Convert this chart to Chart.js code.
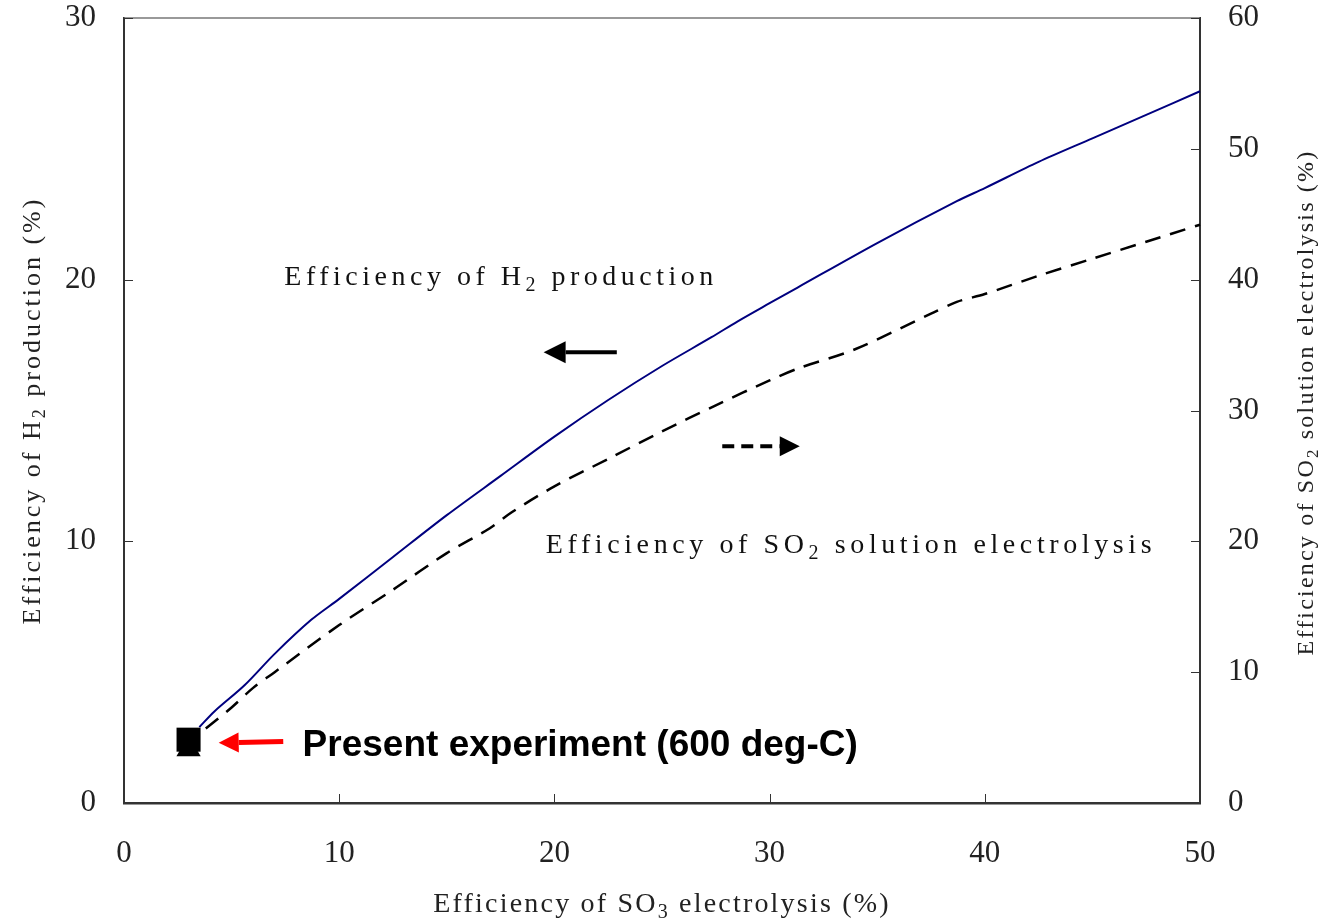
<!DOCTYPE html>
<html>
<head>
<meta charset="utf-8">
<script src="https://cdn.jsdelivr.net/npm/chart.js@4.4.0/dist/chart.umd.min.js"></script>
<style>
  html, body { margin: 0; padding: 0; background: #fff; }
  #wrap { width: 1318px; height: 920px; }
</style>
</head>
<body>
<div id="wrap"><canvas id="chart" width="1318" height="920"></canvas></div>
<script>
// SO3 electrolysis efficiency (%) -> H2 production efficiency (%), left axis
const h2_X = [3.5, 4.2, 5.6, 7.0, 8.7, 10.0, 12.5, 15.0, 17.5, 20.0, 22.5, 25.0, 27.3, 28.5, 30.0, 31.3, 35.0, 38.7, 40.0, 42.5, 45.0, 47.5, 50.0];
const h2_Y = [2.9, 3.5, 4.5, 5.7, 7.0, 7.8, 9.4, 11.0, 12.5, 14.0, 15.4, 16.7, 17.8, 18.4, 19.1, 19.7, 21.4, 23.0, 23.5, 24.5, 25.4, 26.3, 27.2];

// SO3 electrolysis efficiency (%) -> SO2 solution electrolysis efficiency (%), right axis
const so2_X = [3.8, 5.0, 6.0, 7.0, 10.0, 12.5, 15.0, 17.0, 18.0, 20.0, 22.5, 25.0, 27.5, 30.0, 31.3, 34.0, 37.5, 38.7, 40.0, 42.5, 45.0, 47.5, 50.0];
const so2_Y = [5.7, 7.3, 8.8, 10.0, 13.6, 16.3, 19.1, 21.0, 22.2, 24.2, 26.3, 28.4, 30.4, 32.3, 33.2, 34.7, 37.4, 38.3, 38.9, 40.3, 41.6, 42.9, 44.2];

// present experiment (600 deg-C)
const expX = [3.0];
const expH2 = [2.42];
const expSO2 = [4.1];

const xTicks = [0, 10, 20, 30, 40, 50];
const yLeftTicks = [0, 10, 20, 30];
const yRightTicks = [0, 10, 20, 30, 40, 50, 60];

const serif = '"Liberation Serif", "DejaVu Serif", serif';

function pts(xs, ys) { return xs.map((x, i) => ({ x: x, y: ys[i] })); }

// text with a lowered subscript part, e.g. ['Efficiency of H', '2', ' production']
function drawSubText(ctx, parts, x, y, size, spacing, align) {
  ctx.save();
  ctx.letterSpacing = spacing + 'px';
  ctx.textBaseline = 'alphabetic';
  ctx.textAlign = 'left';
  const subSize = Math.round(size * 0.7);
  const widths = parts.map((p, i) => {
    ctx.font = (i === 1 ? subSize : size) + 'px ' + serif;
    return ctx.measureText(p).width;
  });
  const total = widths.reduce((a, b) => a + b, 0);
  let cx = align === 'center' ? x - total / 2 : x;
  parts.forEach((p, i) => {
    ctx.font = (i === 1 ? subSize : size) + 'px ' + serif;
    ctx.fillText(p, cx, i === 1 ? y + size * 0.2 : y);
    cx += widths[i];
  });
  ctx.restore();
}

function arrow(ctx, x1, y1, x2, y2, color, width, head, dash) {
  const ang = Math.atan2(y2 - y1, x2 - x1);
  const bx = x2 - Math.cos(ang) * head;
  const by = y2 - Math.sin(ang) * head;
  ctx.save();
  ctx.strokeStyle = color;
  ctx.fillStyle = color;
  ctx.lineWidth = width;
  ctx.setLineDash(dash || []);
  ctx.beginPath();
  ctx.moveTo(x1, y1);
  ctx.lineTo(bx, by);
  ctx.stroke();
  ctx.setLineDash([]);
  ctx.beginPath();
  ctx.moveTo(x2, y2);
  ctx.lineTo(bx - Math.sin(ang) * head * 0.5, by + Math.cos(ang) * head * 0.5);
  ctx.lineTo(bx + Math.sin(ang) * head * 0.5, by - Math.cos(ang) * head * 0.5);
  ctx.closePath();
  ctx.fill();
  ctx.restore();
}

const decorPlugin = {
  id: 'decor',
  afterDraw(chart) {
    const ctx = chart.ctx;
    const a = chart.chartArea;
    const sx = chart.scales.x, sy = chart.scales.y, sy1 = chart.scales.y1;

    // top border
    ctx.save();
    ctx.strokeStyle = '#777';
    ctx.lineWidth = 1.5;
    ctx.beginPath();
    ctx.moveTo(a.left, a.top);
    ctx.lineTo(a.right, a.top);
    ctx.stroke();

    // inward tick marks
    ctx.strokeStyle = '#333';
    ctx.lineWidth = 1;
    const tl = 9;
    ctx.beginPath();
    xTicks.forEach(v => {
      const px = Math.round(sx.getPixelForValue(v)) + 0.5;
      ctx.moveTo(px, a.bottom); ctx.lineTo(px, a.bottom - tl);
    });
    yLeftTicks.forEach(v => {
      const py = Math.round(sy.getPixelForValue(v)) + 0.5;
      ctx.moveTo(a.left, py); ctx.lineTo(a.left + tl, py);
    });
    yRightTicks.forEach(v => {
      const py = Math.round(sy1.getPixelForValue(v)) + 0.5;
      ctx.moveTo(a.right, py); ctx.lineTo(a.right - tl, py);
    });
    ctx.stroke();
    ctx.restore();

    // axis titles
    ctx.fillStyle = '#222';
    drawSubText(ctx, ['Efficiency of SO', '3', ' electrolysis (%)'], (a.left + a.right) / 2, 912, 28, 2.2, 'center');

    ctx.save();
    ctx.translate(40, (a.top + a.bottom) / 2);
    ctx.rotate(-Math.PI / 2);
    drawSubText(ctx, ['Efficiency of H', '2', ' production (%)'], 0, 0, 26, 3, 'center');
    ctx.restore();

    ctx.save();
    ctx.translate(1313, (a.top + a.bottom) / 2 - 8);
    ctx.rotate(-Math.PI / 2);
    drawSubText(ctx, ['Efficiency of SO', '2', ' solution electrolysis (%)'], 0, 0, 24, 2.2, 'center');
    ctx.restore();

    // annotations
    ctx.fillStyle = '#111';
    drawSubText(ctx, ['Efficiency of H', '2', ' production'], sx.getPixelForValue(7.45), sy.getPixelForValue(19.8), 28, 4.5, 'left');
    drawSubText(ctx, ['Efficiency of SO', '2', ' solution electrolysis'], sx.getPixelForValue(19.6), sy.getPixelForValue(9.55), 28, 4.6, 'left');

    arrow(ctx, sx.getPixelForValue(22.9), sy.getPixelForValue(17.23), sx.getPixelForValue(19.5), sy.getPixelForValue(17.23), '#000', 4, 22);
    arrow(ctx, sx.getPixelForValue(27.8), sy.getPixelForValue(13.63), sx.getPixelForValue(31.4), sy.getPixelForValue(13.63), '#000', 4, 20, [12, 7]);
    arrow(ctx, sx.getPixelForValue(7.4), sy.getPixelForValue(2.35), sx.getPixelForValue(4.4), sy.getPixelForValue(2.3), '#f00', 5, 20);

    ctx.save();
    ctx.fillStyle = '#000';
    ctx.font = 'bold 37px "Liberation Sans", Arial, sans-serif';
    ctx.textBaseline = 'middle';
    ctx.fillText('Present experiment (600 deg-C)', sx.getPixelForValue(8.3), sy.getPixelForValue(2.2));
    ctx.restore();
  }
};

new Chart(document.getElementById('chart'), {
  type: 'line',
  data: {
    datasets: [
      {
        label: 'Present experiment H2',
        data: pts(expX, expH2),
        yAxisID: 'y',
        showLine: false,
        pointStyle: 'rect',
        pointRadius: 17,
        backgroundColor: '#000',
        borderColor: '#000',
        borderWidth: 0
      },
      {
        label: 'Present experiment SO2',
        data: pts(expX, expSO2),
        yAxisID: 'y1',
        showLine: false,
        pointStyle: 'triangle',
        pointRadius: 14,
        backgroundColor: '#000',
        borderColor: '#000',
        borderWidth: 0
      },
      {
        label: 'Efficiency of H2 production',
        data: pts(h2_X, h2_Y),
        yAxisID: 'y',
        borderColor: '#00007f',
        borderWidth: 2,
        pointRadius: 0,
        tension: 0.3,
        fill: false
      },
      {
        label: 'Efficiency of SO2 solution electrolysis',
        data: pts(so2_X, so2_Y),
        yAxisID: 'y1',
        borderColor: '#000',
        borderWidth: 2.5,
        borderDash: [16, 10],
        pointRadius: 0,
        tension: 0.3,
        fill: false
      }
    ]
  },
  options: {
    responsive: false,
    animation: false,
    clip: false,
    layout: { padding: { top: 18, left: 0, right: 0, bottom: 0 } },
    plugins: { legend: { display: false }, tooltip: { enabled: false } },
    scales: {
      x: {
        type: 'linear',
        min: 0, max: 50,
        afterBuildTicks: s => { s.ticks = xTicks.map(v => ({ value: v })); },
        afterFit: s => { s.height = 117; s.paddingLeft = 0; s.paddingRight = 0; },
        grid: { display: false },
        border: { display: true, color: '#333', width: 2.5 },
        ticks: { color: '#222', font: { family: serif, size: 31 }, padding: 24, maxRotation: 0 }
      },
      y: {
        position: 'left',
        min: 0, max: 30,
        afterBuildTicks: s => { s.ticks = yLeftTicks.map(v => ({ value: v })); },
        afterFit: s => { s.width = 124; s.paddingTop = 0; s.paddingBottom = 0; },
        grid: { display: false },
        border: { display: true, color: '#333', width: 2 },
        ticks: { color: '#222', font: { family: serif, size: 31 }, padding: 20 }
      },
      y1: {
        position: 'right',
        min: 0, max: 60,
        afterBuildTicks: s => { s.ticks = yRightTicks.map(v => ({ value: v })); },
        afterFit: s => { s.width = 118; s.paddingTop = 0; s.paddingBottom = 0; },
        grid: { display: false },
        border: { display: true, color: '#333', width: 2 },
        ticks: { color: '#222', font: { family: serif, size: 31 }, padding: 20 }
      }
    }
  },
  plugins: [decorPlugin]
});
</script>
</body>
</html>
